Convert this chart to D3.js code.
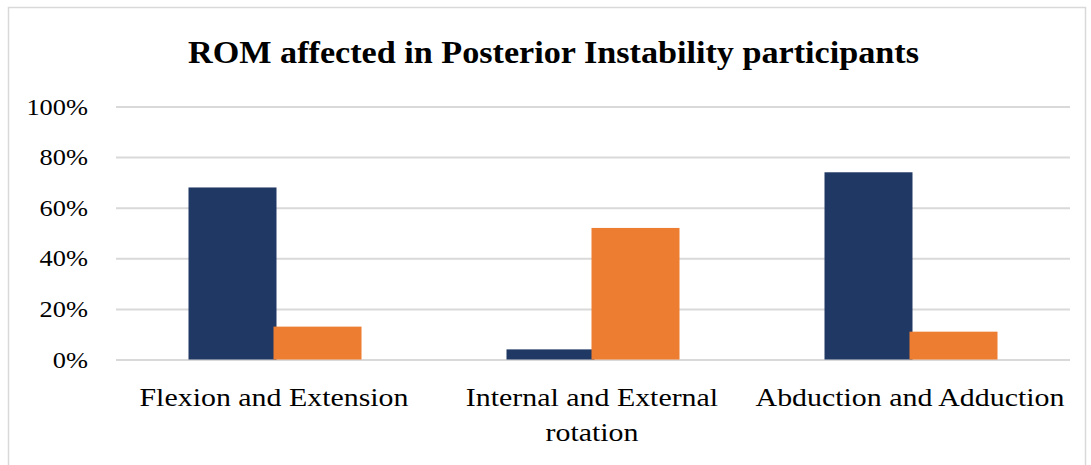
<!DOCTYPE html>
<html><head><meta charset="utf-8">
<script src="https://cdn.jsdelivr.net/npm/d3@7"></script>
<style>html,body{margin:0;padding:0;background:#fff;}</style>
</head><body>
<svg id="c" width="1091" height="465"></svg>
<script>
const categories = [["Flexion and Extension"], ["Internal and External", "rotation"], ["Abduction and Adduction"]];
const seriesNames = ["Series A", "Series B"];
const seriesA = [0.68, 0.04, 0.74];
const seriesB = [0.13, 0.52, 0.11];
const yTicks = [0, 0.2, 0.4, 0.6, 0.8, 1.0];
const title = "ROM affected in Posterior Instability participants";
const colors = ["#203864", "#ed7d31"];

const svg = d3.select("#c");
const font = "'Liberation Serif', 'Times New Roman', serif";
function widen(sel, f) {
  sel.each(function () {
    const w = this.getComputedTextLength();
    d3.select(this).attr("textLength", w * f).attr("lengthAdjust", "spacingAndGlyphs");
  });
}
svg.append("rect").attr("x", 8.5).attr("y", 7.5).attr("width", 1077).attr("height", 470)
  .attr("fill", "#fff").attr("stroke", "#d9d9d9").attr("stroke-width", 1.5);

const m = {left: 116, right: 1070, top: 106.5, bottom: 359.5};
const x = d3.scaleBand().domain(d3.range(categories.length)).range([m.left, m.right]);
const y = d3.scaleLinear().domain([0, 1]).range([m.bottom, m.top]);

const t = svg.append("text").attr("x", 553.5).attr("y", 63).attr("text-anchor", "middle")
  .attr("font-family", font).attr("font-weight", "bold").attr("font-size", 30.5).attr("fill", "#000")
  .text(title);
widen(t, 1.12);

const ya = d3.axisLeft(y).tickValues(yTicks).tickFormat(d3.format(".0%")).tickSize(-(m.right - m.left)).tickPadding(28);
const g = svg.append("g").attr("transform", `translate(${m.left},0)`).call(ya);
g.select(".domain").remove();
g.selectAll(".tick line").attr("stroke", "#d9d9d9").attr("stroke-width", 2);
g.selectAll(".tick text").attr("font-family", font).attr("font-size", 24).attr("fill", "#000");
widen(g.selectAll(".tick text"), 1.1);

const bw = 88, overlap = 3;
const data = [seriesA, seriesB];
data.forEach((s, si) => {
  svg.append("g").selectAll("rect").data(s).join("rect")
    .attr("x", (d, i) => x(i) + x.bandwidth() / 2 + (si === 0 ? -bw + overlap / 2 : -overlap / 2))
    .attr("width", bw)
    .attr("y", d => y(d)).attr("height", d => y(0) - y(d))
    .attr("fill", colors[si]);
});

const xl = svg.append("g");
categories.forEach((lines, i) => {
  lines.forEach((tx, li) => {
    xl.append("text").attr("x", x(i) + x.bandwidth() / 2 - 1).attr("y", 406 + li * 35)
      .attr("text-anchor", "middle").attr("font-family", font).attr("font-size", 24.5).attr("fill", "#000").text(tx);
  });
});
widen(xl.selectAll("text"), 1.22);
</script>
</body></html>
